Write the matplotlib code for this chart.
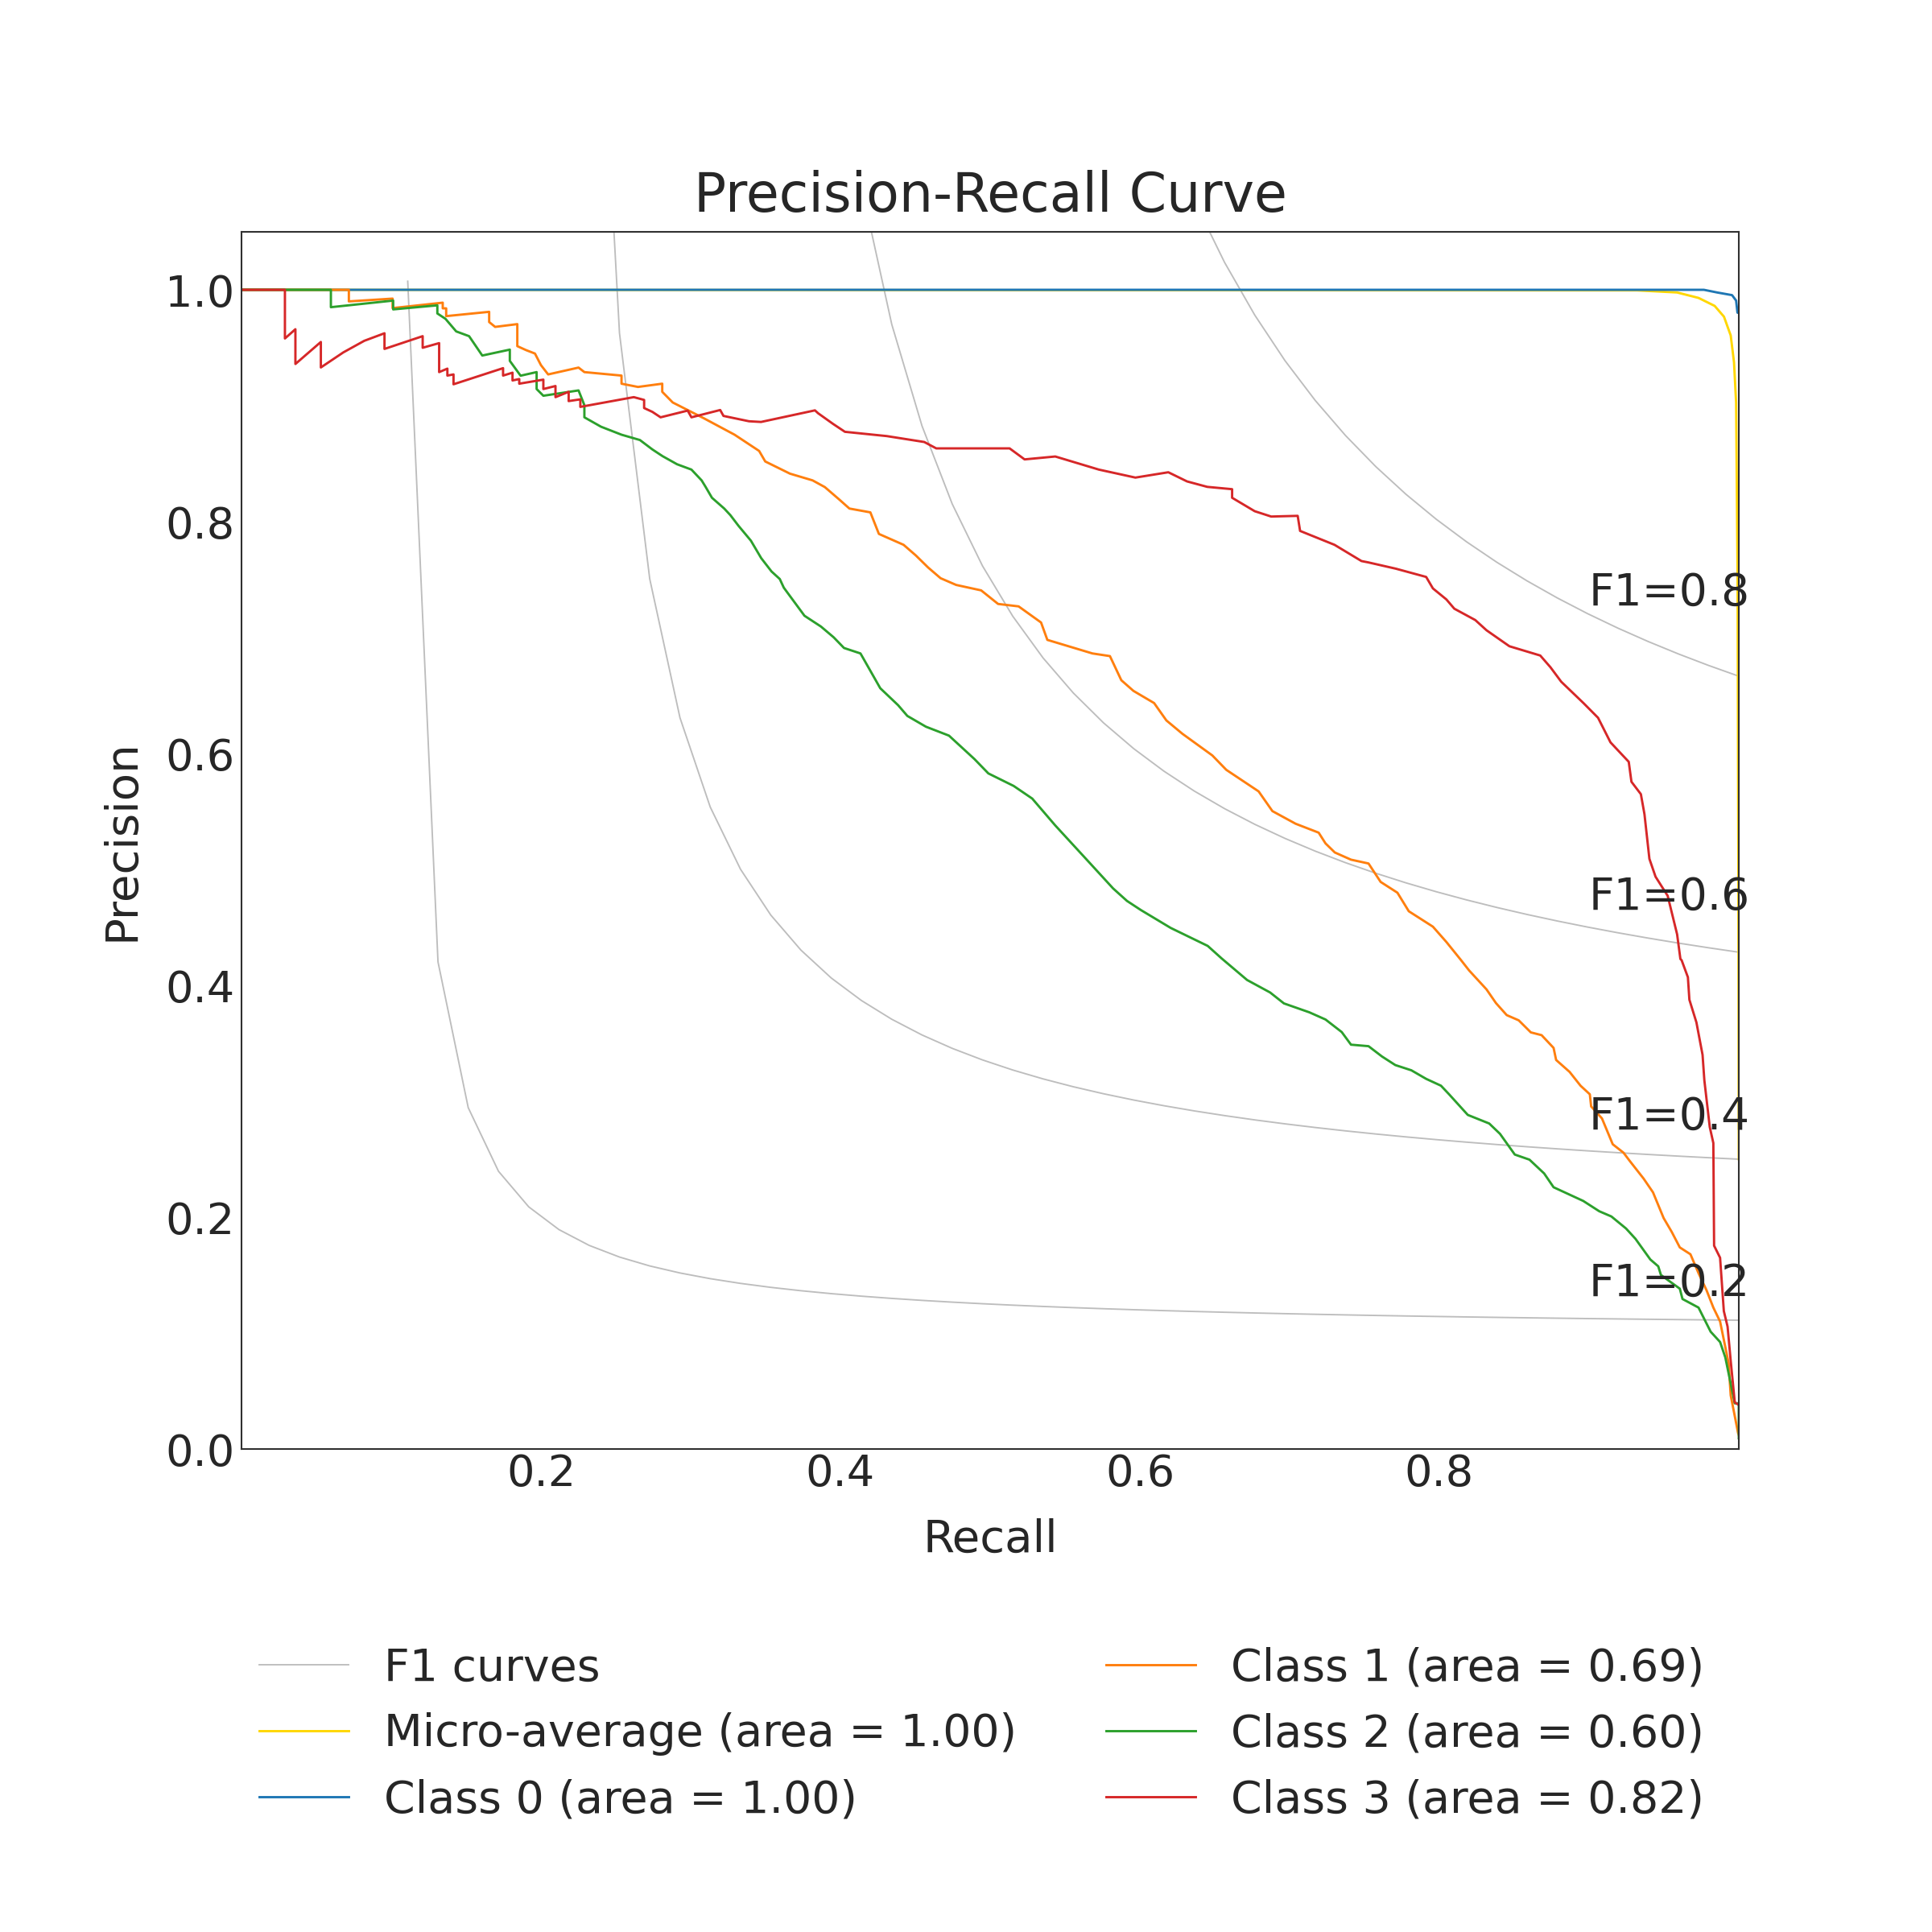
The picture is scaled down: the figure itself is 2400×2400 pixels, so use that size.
import numpy as np
import matplotlib
matplotlib.use("Agg")
import matplotlib.pyplot as plt

# iso-F1 reference levels
f1_levels = [0.2, 0.4, 0.6, 0.8]

# micro-average curve
recall_micro = [0.0, 0.932, 0.9588, 0.9731, 0.9839, 0.9901, 0.9946, 0.9968, 0.9982, 0.9992, 0.9997, 1.0]
precision_micro = [1.0, 0.9995, 0.9977, 0.993, 0.9861, 0.9768, 0.9606, 0.9375, 0.9028, 0.75, 0.5, 0.25]

# class 0
recall_c0 = [0.0, 0.9767, 0.9855, 0.9955, 0.9982, 0.9991, 1.0]
precision_c0 = [1.0, 1.0, 0.9977, 0.9954, 0.9907, 0.9803, 0.98]

# class 1
recall_c1 = [0.0, 0.0717, 0.0717, 0.1009, 0.1009, 0.1344, 0.1344, 0.1367, 0.1367, 0.1654, 0.1654, 0.1694,
             0.1842, 0.1842, 0.19, 0.196, 0.2, 0.2048, 0.2251, 0.229, 0.2538, 0.2538, 0.2648, 0.281, 0.281,
             0.288, 0.3086, 0.3293, 0.3457, 0.3498, 0.3663, 0.3814, 0.3896, 0.3993, 0.406, 0.42, 0.4257,
             0.4422, 0.4504, 0.4586, 0.4669, 0.4773, 0.494, 0.5053, 0.519, 0.534, 0.5382, 0.5683, 0.58,
             0.5876, 0.5957, 0.6095, 0.6177, 0.6284, 0.6484, 0.6577, 0.6793, 0.6885, 0.704, 0.7194, 0.724,
             0.7302, 0.741, 0.7527, 0.7608, 0.772, 0.7796, 0.7957, 0.8047, 0.8145, 0.8199, 0.8315, 0.8378,
             0.845, 0.853, 0.8611, 0.8683, 0.8763, 0.878, 0.887, 0.8943, 0.9005, 0.9014, 0.9086, 0.9158,
             0.923, 0.9274, 0.9364, 0.9427, 0.9498, 0.9552, 0.9606, 0.9677, 0.9731, 0.9785, 0.983, 0.9875,
             0.9932, 0.9946, 0.9995, 1.0]
precision_c1 = [1.0, 1.0, 0.990, 0.9924, 0.9842, 0.9889, 0.984, 0.984, 0.9773, 0.981, 0.9722, 0.968,
                0.9704, 0.9514, 0.948, 0.945, 0.935, 0.927, 0.9329, 0.929, 0.926, 0.919, 0.9162, 0.919, 0.912,
                0.9028, 0.8893, 0.875, 0.861, 0.8519, 0.8414, 0.8356, 0.8298, 0.819, 0.8113, 0.808, 0.7894,
                0.780, 0.7708, 0.7604, 0.7512, 0.7454, 0.7407, 0.729, 0.7269, 0.713, 0.698, 0.6863, 0.684,
                0.6632, 0.654, 0.6435, 0.6285, 0.617, 0.5983, 0.5859, 0.5673, 0.5503, 0.5394, 0.5317, 0.5224,
                0.5146, 0.5084, 0.5051, 0.4892, 0.4799, 0.4639, 0.4506, 0.4374, 0.4217, 0.4128, 0.3965, 0.3847,
                0.3743, 0.3698, 0.3594, 0.357, 0.346, 0.3356, 0.3253, 0.3134, 0.306, 0.2955, 0.2852, 0.2629,
                0.2556, 0.2481, 0.2333, 0.2214, 0.1992, 0.1873, 0.1739, 0.168, 0.1517, 0.1368, 0.122, 0.110,
                0.074, 0.0463, 0.0139, 0.012]

# class 2
recall_c2 = [0.0, 0.0597, 0.0597, 0.1013, 0.1013, 0.1308, 0.1308, 0.1362, 0.1434, 0.152, 0.1608, 0.1792,
             0.1792, 0.1864, 0.1971, 0.1971, 0.2016, 0.2251, 0.229, 0.229, 0.2401, 0.2538, 0.2661, 0.2744,
             0.2812, 0.2909, 0.3005, 0.3073, 0.31, 0.3142, 0.3224, 0.3265, 0.332, 0.3402, 0.3471, 0.354,
             0.3595, 0.3622, 0.376, 0.387, 0.3955, 0.4024, 0.4134, 0.419, 0.4266, 0.4385, 0.4447, 0.4571,
             0.4725, 0.4895, 0.4988, 0.5157, 0.5281, 0.5435, 0.5645, 0.5821, 0.5914, 0.6006, 0.6206, 0.6453,
             0.6546, 0.6716, 0.687, 0.6962, 0.7132, 0.724, 0.7348, 0.741, 0.7527, 0.7617, 0.7706, 0.7813,
             0.7912, 0.8011, 0.8065, 0.819, 0.8333, 0.8405, 0.8504, 0.8602, 0.87, 0.8763, 0.8961, 0.9068,
             0.9149, 0.9247, 0.931, 0.9409, 0.9462, 0.948, 0.9606, 0.9624, 0.9731, 0.9812, 0.9875, 0.991,
             0.9973, 1.0, 1.0]
precision_c2 = [1.0, 1.0, 0.985, 0.9907, 0.9831, 0.9866, 0.9796, 0.975, 0.9641, 0.96, 0.9433, 0.9484,
                0.9387, 0.9259, 0.929, 0.9144, 0.9086, 0.9132, 0.9005, 0.890, 0.8819, 0.875, 0.8704, 0.8623,
                0.8565, 0.8495, 0.8449, 0.8356, 0.8299, 0.8206, 0.8113, 0.8056, 0.7963, 0.7836, 0.7685, 0.757,
                0.7505, 0.743, 0.7188, 0.7095, 0.7002, 0.691, 0.6863, 0.6736, 0.6563, 0.6417, 0.6324, 0.6231,
                0.6154, 0.5952, 0.5828, 0.572, 0.5611, 0.5379, 0.5084, 0.4836, 0.4728, 0.465, 0.4495, 0.434,
                0.4232, 0.4046, 0.3938, 0.3844, 0.3767, 0.3705, 0.3597, 0.3488, 0.3475, 0.3386, 0.3312, 0.3267,
                0.3193, 0.3134, 0.306, 0.2882, 0.2808, 0.2719, 0.254, 0.2496, 0.2377, 0.2258, 0.214, 0.2051,
                0.2006, 0.1902, 0.1813, 0.1635, 0.1576, 0.1501, 0.1383, 0.1294, 0.122, 0.1012, 0.0923, 0.079,
                0.0394, 0.0394, 0.0093]

# class 3
recall_c3 = [0.0, 0.029, 0.029, 0.036, 0.036, 0.053, 0.053, 0.068, 0.082, 0.0955, 0.0955, 0.121, 0.121,
             0.132, 0.132, 0.1375, 0.1375, 0.1416, 0.1416, 0.1747, 0.1747, 0.181, 0.181, 0.1855, 0.1855,
             0.2016, 0.2016, 0.2097, 0.2097, 0.2185, 0.2185, 0.2263, 0.2263, 0.262, 0.2689, 0.2689, 0.2744,
             0.2799, 0.298, 0.3005, 0.3197, 0.3219, 0.3389, 0.347, 0.383, 0.3851, 0.3951, 0.403, 0.431,
             0.456, 0.464, 0.513, 0.523, 0.5435, 0.5726, 0.597, 0.619, 0.6315, 0.645, 0.6616, 0.6616,
             0.6767, 0.6877, 0.7054, 0.707, 0.730, 0.748, 0.7527, 0.771, 0.7912, 0.7957, 0.8047, 0.810,
             0.824, 0.8315, 0.8468, 0.8674, 0.8742, 0.8814, 0.8964, 0.906, 0.9143, 0.9265, 0.9283, 0.9346,
             0.937, 0.9403, 0.9444, 0.9525, 0.9588, 0.961, 0.9618, 0.966, 0.967, 0.9717, 0.9758, 0.977,
             0.9806, 0.983, 0.9835, 0.9875, 0.990, 0.9925, 0.9946, 0.9973, 1.0]
precision_c3 = [1.0, 1.0, 0.958, 0.966, 0.936, 0.955, 0.933, 0.946, 0.956, 0.9625, 0.949, 0.960, 0.950,
                0.954, 0.929, 0.932, 0.926, 0.927, 0.9185, 0.9324, 0.926, 0.9285, 0.9218, 0.923, 0.919,
                0.9225, 0.9144, 0.917, 0.9074, 0.912, 0.904, 0.9055, 0.899, 0.9074, 0.905, 0.898, 0.8947,
                0.890, 0.8958, 0.890, 0.8963, 0.8912, 0.8866, 0.886, 0.896, 0.8935, 0.8843, 0.8775, 0.8738,
                0.8687, 0.8632, 0.8632, 0.8537, 0.8562, 0.8449, 0.838, 0.8426, 0.8347, 0.830, 0.828, 0.8206,
                0.809, 0.8044, 0.805, 0.792, 0.780, 0.766, 0.7648, 0.7594, 0.7523, 0.7424, 0.7329, 0.7249,
                0.7151, 0.7063, 0.6925, 0.6845, 0.6744, 0.6619, 0.6433, 0.6308, 0.6096, 0.5928, 0.5756, 0.5649,
                0.5476, 0.5091, 0.4937, 0.4772, 0.444, 0.4227, 0.4217, 0.407, 0.3876, 0.368, 0.340, 0.318,
                0.2778, 0.2639, 0.1754, 0.165, 0.119, 0.1056, 0.076, 0.0403, 0.038]

labels = ["F1 curves", "Micro-average (area = 1.00)", "Class 0 (area = 1.00)",
          "Class 1 (area = 0.69)", "Class 2 (area = 0.60)", "Class 3 (area = 0.82)"]

text_color = "#262626"
plt.rcParams["font.family"] = ["DejaVu Sans"]
plt.rcParams["text.color"] = text_color
plt.rcParams["axes.labelcolor"] = text_color
plt.rcParams["xtick.color"] = text_color
plt.rcParams["ytick.color"] = text_color

fig, ax = plt.subplots(figsize=(8, 8), dpi=300)
fig.subplots_adjust(left=0.125, right=0.9, top=0.88, bottom=0.25)

lines = []
# iso-F1 curves
for f in f1_levels:
    x = np.linspace(0.01, 1)
    y = f * x / (2 * x - f)
    l, = ax.plot(x[y >= 0], y[y >= 0], color="#bdbdbd", lw=0.45)
    ax.annotate("F1={0:0.1f}".format(f), xy=(0.9, y[45] + 0.02), fontsize=13.2, color=text_color)
lines.append(l)

lw = 0.7
l, = ax.plot(recall_micro, precision_micro, color="gold", lw=lw)
lines.append(l)
l, = ax.plot(recall_c0, precision_c0, color="#1f77b4", lw=lw)
lines.append(l)
l, = ax.plot(recall_c1, precision_c1, color="#ff7f0e", lw=lw)
lines.append(l)
l, = ax.plot(recall_c2, precision_c2, color="#2ca02c", lw=lw)
lines.append(l)
l, = ax.plot(recall_c3, precision_c3, color="#d62728", lw=lw)
lines.append(l)

ax.set_xlim(0.0, 1.0)
ax.set_ylim(0.0, 1.05)
ax.set_xticks([0.2, 0.4, 0.6, 0.8])
ax.set_yticks([0.0, 0.2, 0.4, 0.6, 0.8, 1.0])
ax.tick_params(axis="both", length=0, labelsize=13)
ax.tick_params(axis="x", pad=1.2)
ax.tick_params(axis="y", pad=2)
for s in ax.spines.values():
    s.set_color("#303030")
    s.set_linewidth(0.5)

ax.set_xlabel("Recall", fontsize=13.5, labelpad=7)
ax.set_ylabel("Precision", fontsize=13.5, labelpad=6.5)
ax.set_title("Precision-Recall Curve", fontsize=16)

# legend order: F1, micro, class 0 in column 1; classes 1-3 in column 2
ax.legend(lines, labels, loc=(0, -0.321), ncol=2, frameon=False, fontsize=13.3)

fig.savefig("out.png", dpi=300)
